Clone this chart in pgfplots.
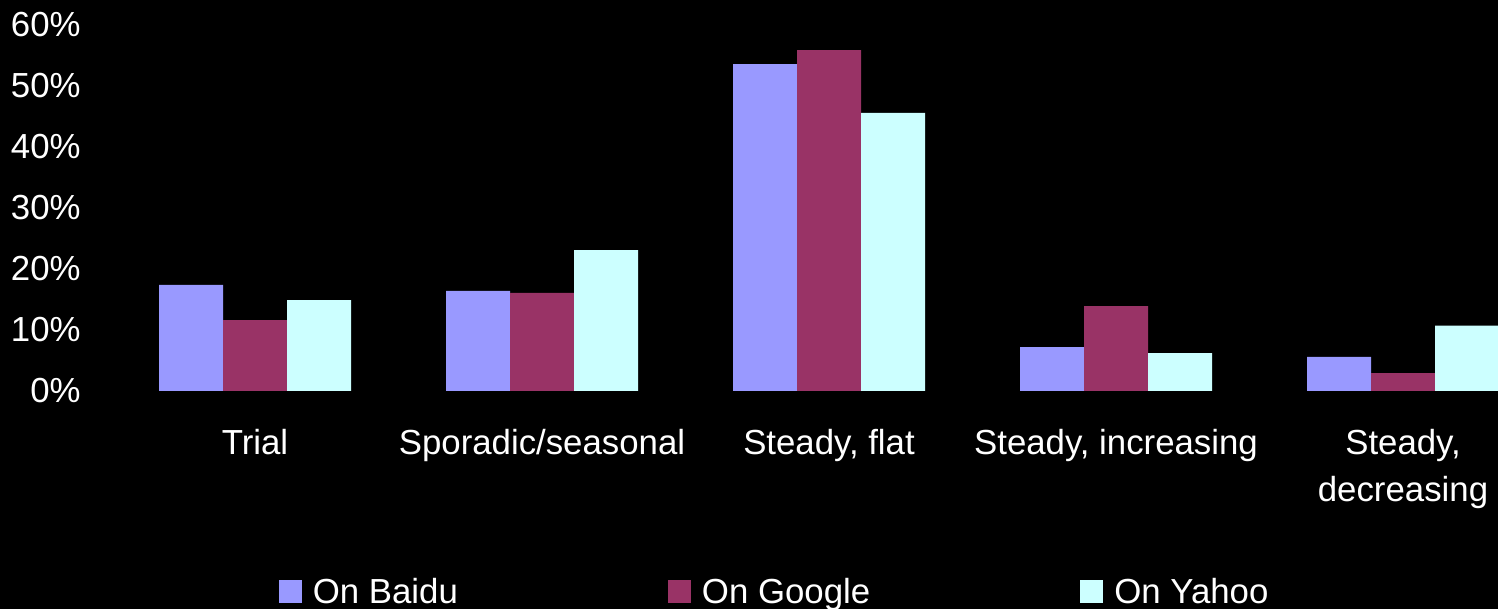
\documentclass[border=0pt]{standalone}
\usepackage{fontspec}
\setmainfont{Liberation Sans}
\usepackage{pgfplots}
\pgfplotsset{compat=1.18}
\definecolor{baidu}{HTML}{9999FF}
\definecolor{google}{HTML}{993366}
\definecolor{yahoo}{HTML}{CCFFFF}
\pgfplotsset{sqlegend/.style={legend image code/.code={\fill[##1,draw=none] (0pt,-5.75pt) rectangle (11.5pt,5.75pt);}}}
\begin{document}
\begin{tikzpicture}
\path[use as bounding box, fill=black] (0pt,0pt) rectangle (749pt,304.5pt);
\clip (0pt,0pt) rectangle (749pt,304.5pt);
\begin{axis}[
  at={(55.75pt,109pt)}, anchor=south west,
  scale only axis, width=693.25pt, height=183pt,
  xmin=-0.5, xmax=4.331, ymin=0, ymax=60,
  ybar=0pt, bar width=32pt,
  axis line style={draw=none}, major tick length=0pt,
  xtick={0,1,2,3,4},
  xticklabels={Trial, Sporadic/seasonal, {Steady, flat}, {Steady, increasing}, {\begin{tabular}[t]{@{}c@{}}Steady,\\decreasing\end{tabular}}},
  tick label style={text=white, font=\fontsize{17.4}{23.5}\selectfont},
  xticklabel style={anchor=base, yshift=-32pt},
  ytick={0,10,20,30,40,50,60},
  yticklabels={0\%,10\%,20\%,30\%,40\%,50\%,60\%},
  yticklabel style={anchor=east, inner sep=0pt, xshift=-15.25pt},
  sqlegend,
  legend columns=3,
  legend style={at={(rel axis cs:0.479,-0.549)}, anchor=center, draw=none, fill=none,
    text=white, font=\fontsize{17.4}{20}\selectfont,
    /tikz/every odd column/.append style={column sep=3.5pt},
    /tikz/every even column/.append style={column sep=103pt}},
]
\addplot[fill=baidu, draw=none] coordinates {(0,17.4) (1,16.4) (2,53.6) (3,7.2) (4,5.6)};
\addplot[fill=google, draw=none] coordinates {(0,11.6) (1,16.1) (2,55.9) (3,13.9) (4,2.95)};
\addplot[fill=yahoo, draw=none] coordinates {(0,14.9) (1,23.1) (2,45.6) (3,6.2) (4,10.7)};
\legend{On Baidu, On Google, On Yahoo}
\end{axis}
\end{tikzpicture}
\end{document}
